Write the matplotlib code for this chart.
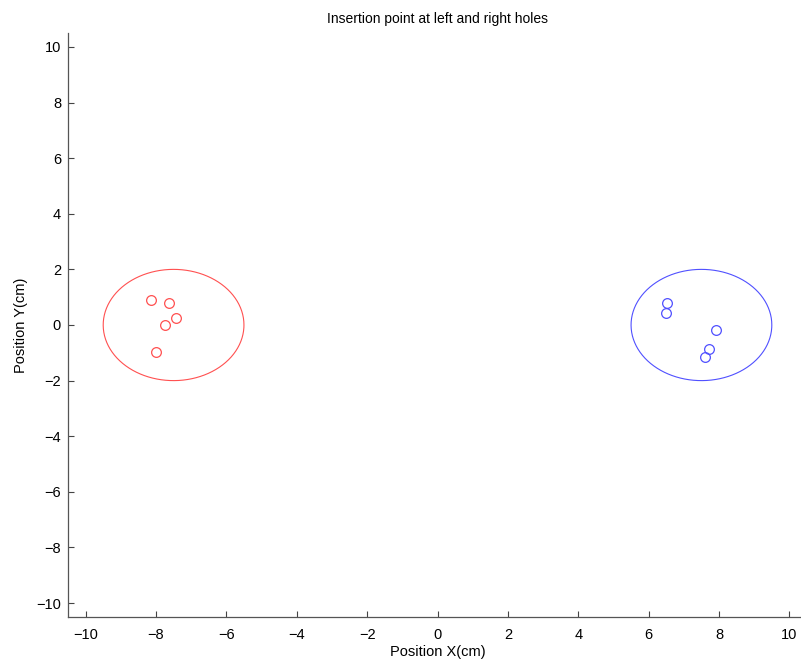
import numpy as np
import matplotlib.pyplot as plt

plt.rcParams['font.family'] = ['Liberation Sans', 'DejaVu Sans']

# hole centres and radius
hole_x = [-7.5, 7.5]
hole_y = [0.0, 0.0]
hole_r = 2.0

# insertion points, left hole
left_x = [-8.13, -7.62, -7.43, -7.74, -8.00]
left_y = [0.90, 0.80, 0.25, -0.01, -0.97]

# insertion points, right hole
right_x = [6.52, 6.50, 7.90, 7.71, 7.59]
right_y = [0.78, 0.44, -0.18, -0.87, -1.14]

ticks = list(range(-10, 11, 2))

fig = plt.figure(figsize=(8.01, 6.64), dpi=100)
ax = fig.add_axes([0.0849, 0.0708, 0.9226, 0.8795])

t = np.linspace(0, 2 * np.pi, 400)
colors = ['#ff5050', '#5050ff']
for cx, cy, c in zip(hole_x, hole_y, colors):
    ax.plot(cx + hole_r * np.cos(t), cy + hole_r * np.sin(t), color=c, lw=0.8,
            solid_capstyle='butt')

ax.plot(left_x, left_y, 'o', mfc='none', mec=colors[0], ms=7, mew=0.9)
ax.plot(right_x, right_y, 'o', mfc='none', mec=colors[1], ms=7, mew=0.9)

ax.set_xlim(-10.5, 10.5)
ax.set_ylim(-10.5, 10.5)
ax.set_xticks(ticks)
ax.set_yticks(ticks)
ax.set_xticklabels([str(v).replace('-', '\u2212') for v in ticks])
ax.set_yticklabels([str(v).replace('-', '\u2212') for v in ticks])
ax.tick_params(direction='in', length=4.5, width=0.8, labelsize=10.5, color='#444444')
ax.tick_params(axis='x', pad=8)
ax.tick_params(axis='y', pad=5)
for s in ['top', 'right']:
    ax.spines[s].set_visible(False)
for s in ['left', 'bottom']:
    ax.spines[s].set_color('#555555')
    ax.spines[s].set_linewidth(0.9)

ax.set_title('Insertion point at left and right holes', fontsize=10, pad=7)
ax.set_xlabel('Position X(cm)', fontsize=10.5, labelpad=2)
ax.set_ylabel('Position Y(cm)', fontsize=10.5, labelpad=6)

fig.savefig('out.png', dpi=100)
